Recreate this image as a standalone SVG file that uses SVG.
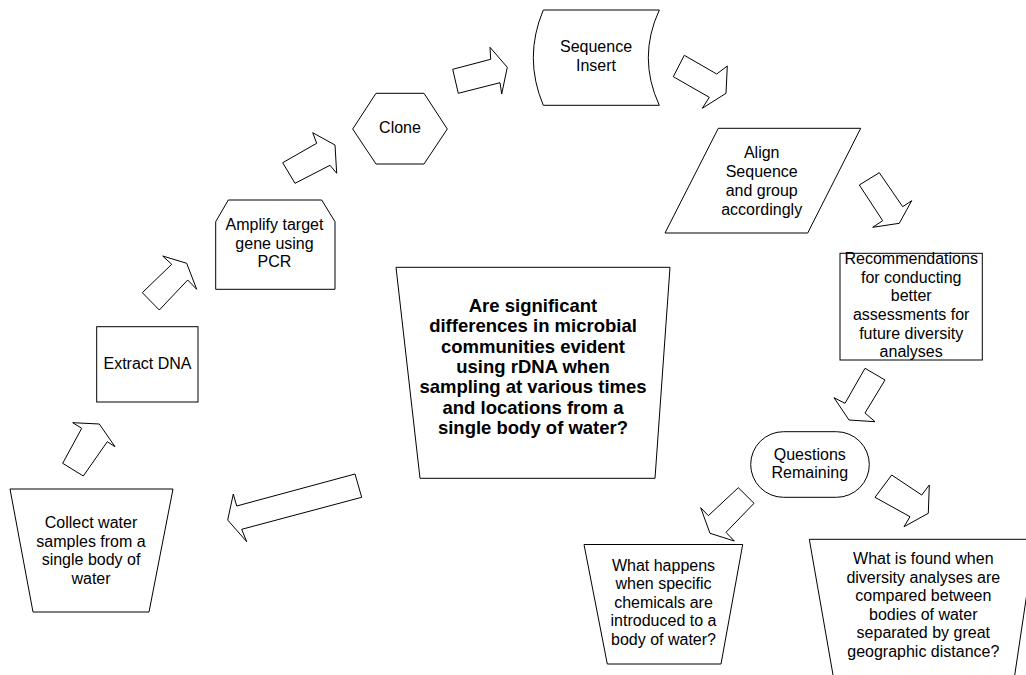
<svg xmlns="http://www.w3.org/2000/svg" width="1026" height="675" viewBox="0 0 1026 675">
<style>
.s{fill:#fff;stroke:#000;stroke-width:1}
.a{fill:#fff;stroke:#000;stroke-width:1;stroke-linejoin:miter}
text{font-family:"Liberation Sans",Arial,sans-serif;font-size:16px;fill:#000;text-anchor:middle}
.b{font-weight:bold;font-size:18.5px}
</style>
<rect width="1026" height="675" fill="#fff"/>
<g id="connectors">
<polygon class="a" points="72.7,422.7 99.3,424 115,446.7 107.3,441.7 83.3,476 62.7,463.3 81.7,428.3"/>
<polygon class="a" points="162.7,256 186.7,263.3 196.7,289.3 187.7,280 159.3,310 142.3,292.7 171.7,264.3"/>
<polygon class="a" points="282.7,162.7 316.7,143.3 312.7,132.7 335,145 336.7,173.3 330,165.3 295,183.3"/>
<polygon class="a" points="452.7,69.3 490.7,59.3 490,47.3 507.3,67.3 501.7,94 500,82.7 458.3,93.3"/>
<polygon class="a" points="684.3,55.3 716.7,74 727.3,66 726,93.3 702.3,108.3 709.3,97.3 673.3,76.7"/>
<polygon class="a" points="859.3,185 879.3,172.7 902.7,206.7 911.7,200.7 899.3,223.3 872.7,227.3 882.7,220.7"/>
<polygon class="a" points="865,368.3 885,380 865,413 875,421.7 849,420 834,397.7 845,403.3"/>
<polygon class="a" points="738.3,487.7 754,503.3 726,532.3 734.3,541 710,533.3 700.7,507.7 708.3,515.7"/>
<polygon class="a" points="875,497.3 891.7,475 921.7,495 929.3,485 928.3,513.3 904,526.7 910,516.7"/>
<polygon class="a" points="355,474 361.7,497.3 241.7,529.3 246.7,541.7 227.7,520 233.3,494 236.7,506"/>
</g>
<g id="collect">
<polygon class="s" points="10,489 173,489 149,612 33,612"/>
<text x="91" y="528.3">Collect water</text>
<text x="91" y="546.7">samples from a</text>
<text x="91" y="565.1">single body of</text>
<text x="91" y="583.5">water</text>
</g>
<g id="extract">
<rect class="s" x="96.7" y="326.7" width="101.3" height="75.3"/>
<text x="147.5" y="369">Extract DNA</text>
</g>
<g id="amplify">
<polygon class="s" points="215.7,221.7 228.3,200 321.7,200 335,221.7 335,289.3 215.7,289.3"/>
<text x="274.5" y="230">Amplify target</text>
<text x="274.5" y="248.7">gene using</text>
<text x="274.5" y="267.3">PCR</text>
</g>
<g id="clone">
<polygon class="s" points="352.7,129 376,93.3 424,93.3 447.3,129 424,164 376,164"/>
<text x="400" y="133.3">Clone</text>
</g>
<g id="sequence">
<path class="s" d="M543.3,10 L659.3,10 Q637.3,57.7 659.3,105.3 L543.3,105.3 Q523.3,57.7 543.3,10 Z"/>
<text x="596" y="52.3">Sequence</text>
<text x="596" y="71.2">Insert</text>
</g>
<g id="align">
<polygon class="s" points="718.3,128.3 860.7,128.3 807.7,233 665,233"/>
<text x="761.7" y="158.3">Align</text>
<text x="761.7" y="177.2">Sequence</text>
<text x="761.7" y="196.1">and group</text>
<text x="761.7" y="215">accordingly</text>
</g>
<g id="recommendations">
<rect class="s" x="840" y="253.3" width="142.3" height="106.7"/>
<text x="911.2" y="264">Recommendations</text>
<text x="911.2" y="282.7">for conducting</text>
<text x="911.2" y="301.3">better</text>
<text x="911.2" y="320">assessments for</text>
<text x="911.2" y="338.6">future diversity</text>
<text x="911.2" y="357.3">analyses</text>
</g>
<g id="questions">
<rect class="s" x="750.7" y="431.7" width="118.6" height="65.6" rx="32.8" ry="32.8"/>
<text x="809.8" y="460">Questions</text>
<text x="809.8" y="478.3">Remaining</text>
</g>
<g id="chemicals">
<polygon class="s" points="584,544.5 742.7,544.5 721,664 607.3,664"/>
<text x="663.5" y="570.7">What happens</text>
<text x="663.5" y="589.2">when specific</text>
<text x="663.5" y="607.7">chemicals are</text>
<text x="663.5" y="626.2">introduced to a</text>
<text x="663.5" y="644.7">body of water?</text>
</g>
<g id="distance">
<polygon class="s" points="809.3,539.3 1035,539.3 1011,700 837.4,700"/>
<text x="923.3" y="564">What is found when</text>
<text x="923.3" y="582.5">diversity analyses are</text>
<text x="923.3" y="601">compared between</text>
<text x="923.3" y="619.5">bodies of water</text>
<text x="923.3" y="638">separated by great</text>
<text x="923.3" y="656.5">geographic distance?</text>
</g>
<g id="question">
<polygon class="s" points="396,267.3 670,267.3 655,478.3 420,478.3"/>
<text class="b" x="533" y="312">Are significant</text>
<text class="b" x="533" y="332.3">differences in microbial</text>
<text class="b" x="533" y="352.6">communities evident</text>
<text class="b" x="533" y="373">using rDNA when</text>
<text class="b" x="533" y="393.3">sampling at various times</text>
<text class="b" x="533" y="413.6">and locations from a</text>
<text class="b" x="533" y="434">single body of water?</text>
</g>
</svg>
